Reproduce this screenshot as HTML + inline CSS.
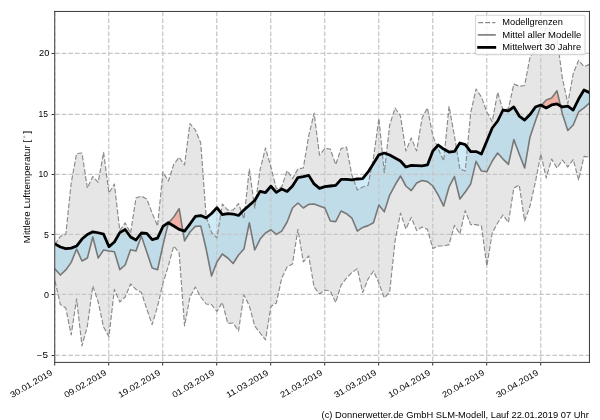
<!DOCTYPE html>
<html><head><meta charset="utf-8"><title>chart</title>
<style>html,body{margin:0;padding:0;background:#fff}svg{display:block}text{font-family:"Liberation Sans",sans-serif;fill:#000}</style></head>
<body>
<svg width="600" height="420" viewBox="0 0 600 420" style="will-change:transform">
<rect width="600" height="420" fill="#fff"/>
<defs><filter id="gs" x="0" y="0" width="100%" height="100%" filterUnits="userSpaceOnUse"><feOffset dx="0" dy="0"/></filter><clipPath id="ax"><rect x="55.0" y="11.4" width="534.6" height="351.0"/></clipPath></defs>
<g clip-path="url(#ax)">
<path d="M55 244.46 L60.4 236.25 L65.8 234.56 L71.19 182.98 L76.59 153.62 L81.99 153.02 L87.39 188.05 L92.79 176.57 L98.18 182.37 L103.58 152.41 L108.98 193 L114.38 184.06 L119.78 230.45 L125.17 222.96 L130.57 232.99 L135.97 197.96 L141.37 196.14 L146.77 199.04 L152.16 213.06 L157.56 225.98 L162.96 171.98 L168.36 181.04 L173.76 164.37 L179.15 157.37 L184.55 164.98 L189.95 123.54 L195.35 129.95 L200.75 142.99 L206.14 216.68 L211.54 232.5 L216.94 237.94 L222.34 204 L227.74 210.04 L233.13 210.04 L238.53 203.51 L243.93 218.98 L249.33 168.96 L254.73 208.22 L260.12 169.57 L265.52 147.82 L270.92 167.15 L276.32 188.65 L281.72 186.96 L287.11 170.66 L292.51 178.63 L297.91 168.96 L303.31 168 L308.71 135.99 L314.1 113.03 L319.5 155.07 L324.9 148.55 L330.3 149.03 L335.7 164.62 L341.09 148.55 L346.49 146.98 L351.89 175 L357.29 189.98 L362.69 186.96 L368.08 185.39 L373.48 157.97 L378.88 118.47 L384.28 172.59 L389.68 124.99 L395.07 107.96 L400.47 116.05 L405.87 150.96 L411.27 138.04 L416.67 150.96 L422.06 117.99 L427.46 107.96 L432.86 135.99 L438.26 149.03 L443.66 160.99 L449.05 106.39 L454.45 135.99 L459.85 168.96 L465.25 171.02 L470.65 113.03 L476.04 88.99 L481.44 96.97 L486.84 111.95 L492.24 121.73 L497.64 92.26 L503.03 110.38 L508.43 108.56 L513.83 84.16 L519.23 86.22 L524.63 85.49 L530.02 57.22 L535.42 49.98 L540.82 39.59 L546.22 27.39 L551.62 30.89 L557.01 37.9 L562.41 78.36 L567.81 103.37 L573.21 73.65 L578.61 60.24 L584 66.65 L589.4 64.35 L589.4 157 L584 156.4 L578.61 179.96 L573.21 159.54 L567.81 167.03 L562.41 160.02 L557.01 168 L551.62 159.06 L546.22 178.02 L540.82 153.98 L535.42 182.01 L530.02 206.05 L524.63 221.03 L519.23 185.03 L513.83 188.05 L508.43 222.6 L503.03 214.99 L497.64 222.96 L492.24 232.99 L486.84 265.97 L481.44 225.98 L476.04 224.65 L470.65 224.65 L465.25 210.64 L459.85 233.95 L454.45 225.38 L449.05 244.58 L443.66 246.03 L438.26 246.03 L432.86 248.57 L427.46 229.36 L422.06 226.95 L416.67 230.57 L411.27 217.4 L405.87 229 L400.47 213.06 L395.07 240.84 L389.68 292.06 L384.28 297.98 L378.88 283 L373.48 271.04 L368.08 279.01 L362.69 292.54 L357.29 268.62 L351.89 272.61 L346.49 278.05 L341.09 285.05 L335.7 302.57 L330.3 290.97 L324.9 290.01 L319.5 293.99 L314.1 286.99 L308.71 255.94 L303.31 261.98 L297.91 229.36 L292.51 264.03 L287.11 267.05 L281.72 278.05 L276.32 303.05 L270.92 306.43 L265.52 339.9 L260.12 333.01 L254.73 326 L249.33 305.95 L243.93 294.96 L238.53 330.96 L233.13 322.98 L227.74 323.35 L222.34 302.45 L216.94 311.39 L211.54 304.62 L206.14 304.02 L200.75 297.01 L195.35 286.99 L189.95 297.01 L184.55 326 L179.15 252.92 L173.76 246.03 L168.36 265.97 L162.96 283.12 L157.56 306.43 L152.16 324.55 L146.77 308.97 L141.37 292.54 L135.97 289.4 L130.57 283.97 L125.17 297.01 L119.78 301.96 L114.38 289.4 L108.98 336.63 L103.58 326.97 L98.18 301.96 L92.79 286.02 L87.39 326 L81.99 345.94 L76.59 298.94 L71.19 334.94 L65.8 308 L60.4 304.62 L55 280.95Z" fill="#e6e6e6"/>
<path d="M55 243.98 L60.4 247 L65.8 248.57 L71.19 248.09 L76.59 246.03 L81.99 239.03 L87.39 234.44 L92.79 231.78 L98.18 232.75 L103.58 234.2 L108.98 246.64 L114.38 242.05 L119.78 232.63 L125.17 229.48 L130.57 236.97 L135.97 239.99 L141.37 232.99 L146.77 233.35 L152.16 239.63 L157.56 238.18 L162.96 226.46 L168.36 222.72 L168.5 222.81 L168.5 222.81 L168.36 222.96 L162.96 245.07 L157.56 269.71 L152.16 268.02 L146.77 251.95 L141.37 236.01 L135.97 250.99 L130.57 249.66 L125.17 265 L119.78 269.59 L114.38 251.71 L108.98 250.99 L103.58 250.02 L98.18 257.99 L92.79 236.97 L87.39 257.99 L81.99 261.01 L76.59 249.05 L71.19 262.34 L65.8 269.95 L60.4 275.03 L55 268.99ZM182.81 230.51 L184.55 231.06 L189.95 224.05 L195.35 216.44 L200.75 215.59 L206.14 217.89 L211.54 213.54 L216.94 207.62 L222.34 214.63 L227.74 213.66 L233.13 214.02 L238.53 215.47 L243.93 210.04 L249.33 205.2 L254.73 200.49 L260.12 191.31 L265.52 192.52 L270.92 186.24 L276.32 192.4 L281.72 189.02 L287.11 191.43 L292.51 186 L297.91 177.54 L303.31 176.57 L308.71 175.37 L314.1 183.94 L319.5 188.41 L324.9 186.6 L330.3 186 L335.7 185.39 L341.09 179.35 L346.49 179.35 L351.89 179.96 L357.29 178.99 L362.69 178.63 L368.08 171.98 L373.48 163.53 L378.88 154.83 L384.28 153.02 L389.68 155.07 L395.07 157.97 L400.47 160.99 L405.87 167.03 L411.27 165.34 L416.67 165.58 L422.06 165.94 L427.46 164.98 L432.86 150.96 L438.26 145.05 L443.66 149.03 L449.05 152.05 L454.45 151.45 L459.85 142.99 L465.25 144.56 L470.65 151.57 L476.04 151.57 L481.44 153.98 L486.84 141.06 L492.24 128.01 L497.64 121.01 L503.03 110.01 L508.43 110.98 L513.83 106.99 L519.23 116.05 L524.63 120.04 L530.02 114.6 L535.42 106.99 L540.82 104.94 L541.47 105.3 L541.47 105.3 L540.82 106.03 L535.42 121.01 L530.02 136.95 L524.63 168 L519.23 153.98 L513.83 139.61 L508.43 164.37 L503.03 159.06 L497.64 153.02 L492.24 160.99 L486.84 171.62 L481.44 171.02 L476.04 161.35 L470.65 184.06 L465.25 192.04 L459.85 199.04 L454.45 176.57 L449.05 186.96 L443.66 206.05 L438.26 195.06 L432.86 186 L427.46 181.65 L422.06 180.56 L416.67 182.98 L411.27 190.59 L405.87 186 L400.47 175.97 L395.07 185.03 L389.68 195.06 L384.28 211.85 L378.88 204.96 L373.48 222.72 L368.08 225.62 L362.69 227.43 L357.29 231.06 L351.89 218.01 L346.49 213.66 L341.09 211 L335.7 221.63 L330.3 221.03 L324.9 207.98 L319.5 206.05 L314.1 204 L308.71 204.36 L303.31 207.98 L297.91 203.03 L292.51 207.98 L287.11 222 L281.72 231.06 L276.32 234.44 L270.92 229.73 L265.52 232.99 L260.12 239.03 L254.73 250.02 L249.33 222.72 L243.93 249.05 L238.53 254.97 L233.13 263.55 L227.74 257.99 L222.34 254.01 L216.94 261.98 L211.54 275.99 L206.14 249.05 L200.75 225.98 L195.35 226.34 L189.95 232.02 L184.55 240.96 L182.81 230.51ZM560.54 105.94 L562.41 106.99 L567.81 106.03 L573.21 110.01 L578.61 99.02 L584 89.96 L589.4 92.62 L589.4 103.01 L584 107.96 L578.61 111.95 L573.21 124.99 L567.81 130.55 L562.41 114 L560.54 105.94Z" fill="rgba(135,206,235,0.4)"/>
<path d="M168.5 222.81 L173.76 225.98 L179.15 229.36 L182.81 230.51 L182.81 230.51 L179.15 208.59 L173.76 217.04 L168.5 222.81ZM541.47 105.3 L546.22 107.96 L551.62 104.94 L557.01 103.97 L560.54 105.94 L560.54 105.94 L557.01 90.81 L551.62 98.05 L546.22 99.99 L541.47 105.3Z" fill="rgba(255,99,71,0.4)"/>
<path d="M54.75 362.5V11.5M108.75 362.5V11.5M162.75 362.5V11.5M216.75 362.5V11.5M270.75 362.5V11.5M324.75 362.5V11.5M378.75 362.5V11.5M432.75 362.5V11.5M486.75 362.5V11.5M540.75 362.5V11.5" fill="none" stroke="#c6c6c6" stroke-width="1.25" stroke-dasharray="4.63 2" stroke-dashoffset="-1.4"/>
<path d="M54.5 53.4H589.5M54.5 114.4H589.5M54.5 174.4H589.5M54.5 234.4H589.5M54.5 294.4H589.5M54.5 355.4H589.5" fill="none" stroke="#c6c6c6" stroke-width="1.2" stroke-dasharray="4.63 2" stroke-dashoffset="-0.6"/>
<path d="M55 244.46 L60.4 236.25 L65.8 234.56 L71.19 182.98 L76.59 153.62 L81.99 153.02 L87.39 188.05 L92.79 176.57 L98.18 182.37 L103.58 152.41 L108.98 193 L114.38 184.06 L119.78 230.45 L125.17 222.96 L130.57 232.99 L135.97 197.96 L141.37 196.14 L146.77 199.04 L152.16 213.06 L157.56 225.98 L162.96 171.98 L168.36 181.04 L173.76 164.37 L179.15 157.37 L184.55 164.98 L189.95 123.54 L195.35 129.95 L200.75 142.99 L206.14 216.68 L211.54 232.5 L216.94 237.94 L222.34 204 L227.74 210.04 L233.13 210.04 L238.53 203.51 L243.93 218.98 L249.33 168.96 L254.73 208.22 L260.12 169.57 L265.52 147.82 L270.92 167.15 L276.32 188.65 L281.72 186.96 L287.11 170.66 L292.51 178.63 L297.91 168.96 L303.31 168 L308.71 135.99 L314.1 113.03 L319.5 155.07 L324.9 148.55 L330.3 149.03 L335.7 164.62 L341.09 148.55 L346.49 146.98 L351.89 175 L357.29 189.98 L362.69 186.96 L368.08 185.39 L373.48 157.97 L378.88 118.47 L384.28 172.59 L389.68 124.99 L395.07 107.96 L400.47 116.05 L405.87 150.96 L411.27 138.04 L416.67 150.96 L422.06 117.99 L427.46 107.96 L432.86 135.99 L438.26 149.03 L443.66 160.99 L449.05 106.39 L454.45 135.99 L459.85 168.96 L465.25 171.02 L470.65 113.03 L476.04 88.99 L481.44 96.97 L486.84 111.95 L492.24 121.73 L497.64 92.26 L503.03 110.38 L508.43 108.56 L513.83 84.16 L519.23 86.22 L524.63 85.49 L530.02 57.22 L535.42 49.98 L540.82 39.59 L546.22 27.39 L551.62 30.89 L557.01 37.9 L562.41 78.36 L567.81 103.37 L573.21 73.65 L578.61 60.24 L584 66.65 L589.4 64.35" fill="none" stroke="#8a8a8a" stroke-width="1.15" stroke-dasharray="5 2" stroke-linejoin="round"/>
<path d="M55 280.95 L60.4 304.62 L65.8 308 L71.19 334.94 L76.59 298.94 L81.99 345.94 L87.39 326 L92.79 286.02 L98.18 301.96 L103.58 326.97 L108.98 336.63 L114.38 289.4 L119.78 301.96 L125.17 297.01 L130.57 283.97 L135.97 289.4 L141.37 292.54 L146.77 308.97 L152.16 324.55 L157.56 306.43 L162.96 283.12 L168.36 265.97 L173.76 246.03 L179.15 252.92 L184.55 326 L189.95 297.01 L195.35 286.99 L200.75 297.01 L206.14 304.02 L211.54 304.62 L216.94 311.39 L222.34 302.45 L227.74 323.35 L233.13 322.98 L238.53 330.96 L243.93 294.96 L249.33 305.95 L254.73 326 L260.12 333.01 L265.52 339.9 L270.92 306.43 L276.32 303.05 L281.72 278.05 L287.11 267.05 L292.51 264.03 L297.91 229.36 L303.31 261.98 L308.71 255.94 L314.1 286.99 L319.5 293.99 L324.9 290.01 L330.3 290.97 L335.7 302.57 L341.09 285.05 L346.49 278.05 L351.89 272.61 L357.29 268.62 L362.69 292.54 L368.08 279.01 L373.48 271.04 L378.88 283 L384.28 297.98 L389.68 292.06 L395.07 240.84 L400.47 213.06 L405.87 229 L411.27 217.4 L416.67 230.57 L422.06 226.95 L427.46 229.36 L432.86 248.57 L438.26 246.03 L443.66 246.03 L449.05 244.58 L454.45 225.38 L459.85 233.95 L465.25 210.64 L470.65 224.65 L476.04 224.65 L481.44 225.98 L486.84 265.97 L492.24 232.99 L497.64 222.96 L503.03 214.99 L508.43 222.6 L513.83 188.05 L519.23 185.03 L524.63 221.03 L530.02 206.05 L535.42 182.01 L540.82 153.98 L546.22 178.02 L551.62 159.06 L557.01 168 L562.41 160.02 L567.81 167.03 L573.21 159.54 L578.61 179.96 L584 156.4 L589.4 157" fill="none" stroke="#8a8a8a" stroke-width="1.15" stroke-dasharray="5 2" stroke-linejoin="round"/>
<path d="M55 268.99 L60.4 275.03 L65.8 269.95 L71.19 262.34 L76.59 249.05 L81.99 261.01 L87.39 257.99 L92.79 236.97 L98.18 257.99 L103.58 250.02 L108.98 250.99 L114.38 251.71 L119.78 269.59 L125.17 265 L130.57 249.66 L135.97 250.99 L141.37 236.01 L146.77 251.95 L152.16 268.02 L157.56 269.71 L162.96 245.07 L168.36 222.96 L173.76 217.04 L179.15 208.59 L184.55 240.96 L189.95 232.02 L195.35 226.34 L200.75 225.98 L206.14 249.05 L211.54 275.99 L216.94 261.98 L222.34 254.01 L227.74 257.99 L233.13 263.55 L238.53 254.97 L243.93 249.05 L249.33 222.72 L254.73 250.02 L260.12 239.03 L265.52 232.99 L270.92 229.73 L276.32 234.44 L281.72 231.06 L287.11 222 L292.51 207.98 L297.91 203.03 L303.31 207.98 L308.71 204.36 L314.1 204 L319.5 206.05 L324.9 207.98 L330.3 221.03 L335.7 221.63 L341.09 211 L346.49 213.66 L351.89 218.01 L357.29 231.06 L362.69 227.43 L368.08 225.62 L373.48 222.72 L378.88 204.96 L384.28 211.85 L389.68 195.06 L395.07 185.03 L400.47 175.97 L405.87 186 L411.27 190.59 L416.67 182.98 L422.06 180.56 L427.46 181.65 L432.86 186 L438.26 195.06 L443.66 206.05 L449.05 186.96 L454.45 176.57 L459.85 199.04 L465.25 192.04 L470.65 184.06 L476.04 161.35 L481.44 171.02 L486.84 171.62 L492.24 160.99 L497.64 153.02 L503.03 159.06 L508.43 164.37 L513.83 139.61 L519.23 153.98 L524.63 168 L530.02 136.95 L535.42 121.01 L540.82 106.03 L546.22 99.99 L551.62 98.05 L557.01 90.81 L562.41 114 L567.81 130.55 L573.21 124.99 L578.61 111.95 L584 107.96 L589.4 103.01" fill="none" stroke="#787878" stroke-width="1.6" stroke-linejoin="round" stroke-linecap="square"/>
<path d="M55 243.98 L60.4 247 L65.8 248.57 L71.19 248.09 L76.59 246.03 L81.99 239.03 L87.39 234.44 L92.79 231.78 L98.18 232.75 L103.58 234.2 L108.98 246.64 L114.38 242.05 L119.78 232.63 L125.17 229.48 L130.57 236.97 L135.97 239.99 L141.37 232.99 L146.77 233.35 L152.16 239.63 L157.56 238.18 L162.96 226.46 L168.36 222.72 L173.76 225.98 L179.15 229.36 L184.55 231.06 L189.95 224.05 L195.35 216.44 L200.75 215.59 L206.14 217.89 L211.54 213.54 L216.94 207.62 L222.34 214.63 L227.74 213.66 L233.13 214.02 L238.53 215.47 L243.93 210.04 L249.33 205.2 L254.73 200.49 L260.12 191.31 L265.52 192.52 L270.92 186.24 L276.32 192.4 L281.72 189.02 L287.11 191.43 L292.51 186 L297.91 177.54 L303.31 176.57 L308.71 175.37 L314.1 183.94 L319.5 188.41 L324.9 186.6 L330.3 186 L335.7 185.39 L341.09 179.35 L346.49 179.35 L351.89 179.96 L357.29 178.99 L362.69 178.63 L368.08 171.98 L373.48 163.53 L378.88 154.83 L384.28 153.02 L389.68 155.07 L395.07 157.97 L400.47 160.99 L405.87 167.03 L411.27 165.34 L416.67 165.58 L422.06 165.94 L427.46 164.98 L432.86 150.96 L438.26 145.05 L443.66 149.03 L449.05 152.05 L454.45 151.45 L459.85 142.99 L465.25 144.56 L470.65 151.57 L476.04 151.57 L481.44 153.98 L486.84 141.06 L492.24 128.01 L497.64 121.01 L503.03 110.01 L508.43 110.98 L513.83 106.99 L519.23 116.05 L524.63 120.04 L530.02 114.6 L535.42 106.99 L540.82 104.94 L546.22 107.96 L551.62 104.94 L557.01 103.97 L562.41 106.99 L567.81 106.03 L573.21 110.01 L578.61 99.02 L584 89.96 L589.4 92.62" fill="none" stroke="#000" stroke-width="2.78" stroke-linejoin="round" stroke-linecap="square"/>
</g>
<path d="M54.72 10.9V362.95M589.45 10.9V362.95M54.17 11.45H590M54.17 362.4H590" fill="none" stroke="#383838" stroke-width="1"/>
<path d="M54.7 363v2.5M108.7 363v2.5M162.7 363v2.5M216.7 363v2.5M270.7 363v2.5M324.7 363v2.5M378.7 363v2.5M432.7 363v2.5M486.7 363v2.5M540.7 363v2.5M54 53.5h-2.4M54 114.5h-2.4M54 174.5h-2.4M54 234.5h-2.4M54 294.5h-2.4M54 355.5h-2.4" fill="none" stroke="#303030" stroke-width="1"/>
<g filter="url(#gs)">
<text x="48.0" y="358.45" font-size="8.4" text-anchor="end" textLength="11.35" lengthAdjust="spacingAndGlyphs">−5</text>
<text x="48.9" y="297.85" font-size="8.4" text-anchor="end" textLength="5" lengthAdjust="spacingAndGlyphs">0</text>
<text x="48.8" y="237.85" font-size="8.4" text-anchor="end" textLength="4.9" lengthAdjust="spacingAndGlyphs">5</text>
<text x="48.0" y="177.45" font-size="8.4" text-anchor="end" textLength="9.5" lengthAdjust="spacingAndGlyphs">10</text>
<text x="48.0" y="117.45" font-size="8.4" text-anchor="end" textLength="9.5" lengthAdjust="spacingAndGlyphs">15</text>
<text x="49.3" y="56.45" font-size="8.4" text-anchor="end" textLength="10.3" lengthAdjust="spacingAndGlyphs">20</text>
<text transform="translate(53 374.5) rotate(-30)" font-size="8.4" text-anchor="end" textLength="47.2" lengthAdjust="spacingAndGlyphs">30.01.2019</text>
<text transform="translate(107 374.5) rotate(-30)" font-size="8.4" text-anchor="end" textLength="47.2" lengthAdjust="spacingAndGlyphs">09.02.2019</text>
<text transform="translate(161 374.5) rotate(-30)" font-size="8.4" text-anchor="end" textLength="47.2" lengthAdjust="spacingAndGlyphs">19.02.2019</text>
<text transform="translate(215 374.5) rotate(-30)" font-size="8.4" text-anchor="end" textLength="47.2" lengthAdjust="spacingAndGlyphs">01.03.2019</text>
<text transform="translate(269 374.5) rotate(-30)" font-size="8.4" text-anchor="end" textLength="47.2" lengthAdjust="spacingAndGlyphs">11.03.2019</text>
<text transform="translate(323 374.5) rotate(-30)" font-size="8.4" text-anchor="end" textLength="47.2" lengthAdjust="spacingAndGlyphs">21.03.2019</text>
<text transform="translate(377 374.5) rotate(-30)" font-size="8.4" text-anchor="end" textLength="47.2" lengthAdjust="spacingAndGlyphs">31.03.2019</text>
<text transform="translate(431 374.5) rotate(-30)" font-size="8.4" text-anchor="end" textLength="47.2" lengthAdjust="spacingAndGlyphs">10.04.2019</text>
<text transform="translate(485 374.5) rotate(-30)" font-size="8.4" text-anchor="end" textLength="47.2" lengthAdjust="spacingAndGlyphs">20.04.2019</text>
<text transform="translate(539 374.5) rotate(-30)" font-size="8.4" text-anchor="end" textLength="47.2" lengthAdjust="spacingAndGlyphs">30.04.2019</text>
<text transform="translate(29.6 243.2) rotate(-90)" font-size="8.4" textLength="103.4" lengthAdjust="spacingAndGlyphs">Mittlere Lufttemperatur [</text>
<text transform="translate(29.6 133.7) rotate(-90)" font-size="8.4" textLength="3.1" lengthAdjust="spacingAndGlyphs">]</text>
<circle cx="24.3" cy="136.9" r="0.75" fill="none" stroke="#777" stroke-width="0.5"/>
<text x="321.6" y="418" font-size="8.4" textLength="267.2" lengthAdjust="spacingAndGlyphs">(c) Donnerwetter.de GmbH SLM-Modell, Lauf 22.01.2019 07 Uhr</text>
</g>
<rect x="475.5" y="15.2" width="109.6" height="39.4" rx="1.7" ry="1.7" fill="#fff" fill-opacity="0.8" stroke="#cccccc" stroke-opacity="0.8" stroke-width="1.1"/>
<path d="M478.2 22.6H495.4" fill="none" stroke="#8a8a8a" stroke-width="1.15" stroke-dasharray="5 2"/>
<path d="M478.6 34.9H495" fill="none" stroke="#787878" stroke-width="1.6" stroke-linecap="square"/>
<path d="M478.6 47.4H494.8" fill="none" stroke="#000" stroke-width="2.78" stroke-linecap="square"/>
<g filter="url(#gs)">
<text x="502.3" y="25.1" font-size="8.4" textLength="60.6" lengthAdjust="spacingAndGlyphs">Modellgrenzen</text>
<text x="502.3" y="37.5" font-size="8.4" textLength="79.0" lengthAdjust="spacingAndGlyphs">Mittel aller Modelle</text>
<text x="502.3" y="49.9" font-size="8.4" textLength="78.8" lengthAdjust="spacingAndGlyphs">Mittelwert 30 Jahre</text>
</g>
</svg></body></html>
